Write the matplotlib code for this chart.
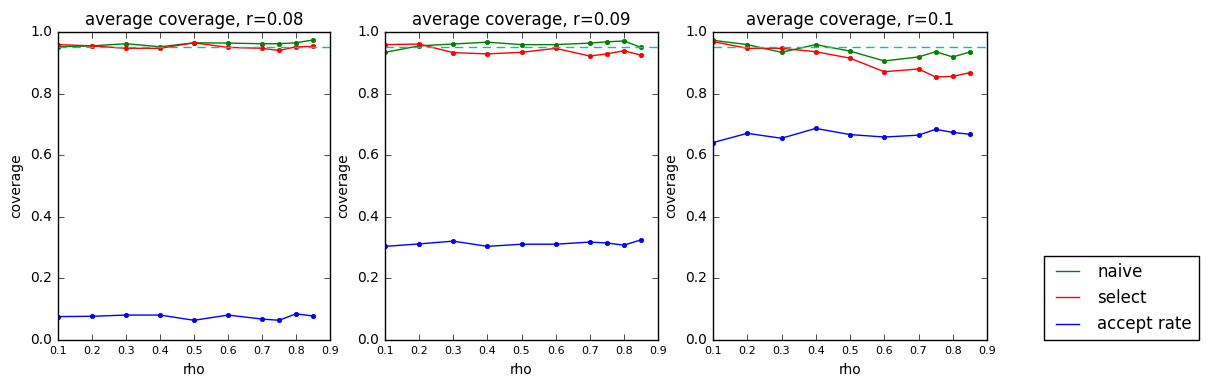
import matplotlib
matplotlib.use("Agg")
import matplotlib.pyplot as plt
from matplotlib.lines import Line2D

rho = [0.1, 0.2, 0.3, 0.4, 0.5, 0.6, 0.7, 0.75, 0.8, 0.85]
r_values = ["0.08", "0.09", "0.1"]

naive = [
    [0.952, 0.955, 0.962, 0.952, 0.965, 0.964, 0.962, 0.962, 0.965, 0.974],
    [0.934, 0.955, 0.961, 0.967, 0.959, 0.959, 0.964, 0.968, 0.971, 0.950],
    [0.973, 0.959, 0.934, 0.959, 0.938, 0.906, 0.919, 0.936, 0.919, 0.935],
]
select = [
    [0.959, 0.955, 0.947, 0.947, 0.965, 0.950, 0.947, 0.940, 0.952, 0.953],
    [0.959, 0.961, 0.933, 0.929, 0.934, 0.947, 0.922, 0.929, 0.939, 0.925],
    [0.969, 0.947, 0.947, 0.936, 0.915, 0.871, 0.880, 0.854, 0.856, 0.868],
]
accept = [
    [0.076, 0.077, 0.081, 0.081, 0.064, 0.081, 0.068, 0.064, 0.085, 0.078],
    [0.304, 0.312, 0.321, 0.304, 0.311, 0.311, 0.318, 0.315, 0.308, 0.325],
    [0.641, 0.671, 0.655, 0.687, 0.667, 0.659, 0.665, 0.684, 0.674, 0.668],
]
target = 0.95

plt.style.use("classic")
fig = plt.figure(figsize=(12.07, 3.87), dpi=100, facecolor="white")

lefts = [58, 385, 713]
widths = [272, 273, 274]
W, H = 1207, 387
for i in range(3):
    ax = fig.add_axes([lefts[i] / W, (H - 340) / H, widths[i] / W, 308 / H])
    ax.plot(rho, naive[i], color="g", marker="o", markersize=3.2, markeredgecolor="g", lw=1)
    ax.plot(rho, select[i], color="r", marker="o", markersize=3.2, markeredgecolor="r", lw=1)
    ax.plot(rho, accept[i], color="b", marker="o", markersize=3.2, markeredgecolor="b", lw=1)
    ax.axhline(target, color="c", ls="--", lw=1, dashes=(6, 4))
    ax.set_xlim(0.1, 0.9)
    ax.set_ylim(0.0, 1.0)
    ax.set_xticks([0.1, 0.2, 0.3, 0.4, 0.5, 0.6, 0.7, 0.8, 0.9])
    ax.set_yticks([0.0, 0.2, 0.4, 0.6, 0.8, 1.0])
    ax.tick_params(axis="x", labelsize=8)
    ax.tick_params(axis="y", labelsize=10)
    ax.set_xlabel("rho", fontsize=10)
    ax.set_ylabel("coverage", fontsize=10)
    ax.set_title("average coverage, r=" + r_values[i], fontsize=12)

handles = [Line2D([], [], color="g", lw=1), Line2D([], [], color="r", lw=1),
           Line2D([], [], color="b", lw=1)]
fig.legend(handles, ["naive", "select", "accept rate"], loc="lower left",
           bbox_to_anchor=(1044 / W, (H - 340) / H), borderaxespad=0,
           fontsize=12, frameon=True, fancybox=False, handlelength=2.0)

fig.savefig("out.png", dpi=100, facecolor="white")
